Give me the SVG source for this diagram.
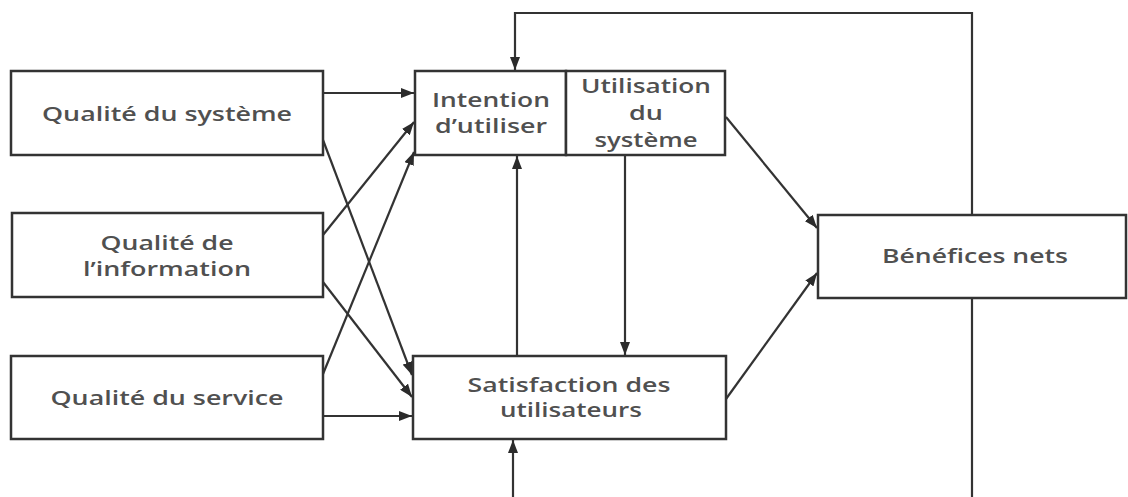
<svg xmlns="http://www.w3.org/2000/svg" width="1128" height="497" viewBox="0 0 1128 497">
<defs>
<marker id="arr" markerUnits="userSpaceOnUse" markerWidth="14" markerHeight="10" refX="13" refY="5" orient="auto">
<path d="M0,0 L13,5 L0,10 z" fill="#2b2b2b"/>
</marker>
<style>
.box{fill:#fff;stroke:#333;stroke-width:2.5}
.t{font-family:"Open Sans","Liberation Sans",sans-serif;font-size:19px;font-weight:600;fill:#505050;text-anchor:middle}
.c{fill:none;stroke:#333;stroke-width:2.2}
</style>
</defs>
<rect width="1128" height="497" fill="#fff"/>
<g id="connectors">
<polyline class="c" points="972,497 972,13 515,13 515,70" marker-end="url(#arr)"/>
<line class="c" x1="513" y1="497" x2="513" y2="440" marker-end="url(#arr)"/>
<line class="c" x1="323" y1="93" x2="414" y2="93" marker-end="url(#arr)"/>
<line class="c" x1="323" y1="235" x2="414" y2="122" marker-end="url(#arr)"/>
<line class="c" x1="323" y1="374" x2="414" y2="152" marker-end="url(#arr)"/>
<line class="c" x1="323" y1="140" x2="412" y2="375" marker-end="url(#arr)"/>
<line class="c" x1="323" y1="282" x2="412" y2="397" marker-end="url(#arr)"/>
<line class="c" x1="323" y1="416" x2="412" y2="416" marker-end="url(#arr)"/>
<line class="c" x1="517" y1="356" x2="517" y2="156" marker-end="url(#arr)"/>
<line class="c" x1="625" y1="155" x2="625" y2="355" marker-end="url(#arr)"/>
<line class="c" x1="726" y1="117" x2="817" y2="228" marker-end="url(#arr)"/>
<line class="c" x1="726" y1="399" x2="817" y2="273" marker-end="url(#arr)"/>
</g>
<g id="qualite-systeme">
<rect class="box" x="11" y="71" width="312" height="84"/>
<text class="t" x="167" y="121" textLength="250" lengthAdjust="spacingAndGlyphs">Qualité du système</text>
</g>
<g id="qualite-information">
<rect class="box" x="12" y="213" width="311" height="84"/>
<text class="t" x="167" y="250" textLength="133" lengthAdjust="spacingAndGlyphs">Qualité de</text>
<text class="t" x="167" y="276" textLength="168" lengthAdjust="spacingAndGlyphs">l’information</text>
</g>
<g id="qualite-service">
<rect class="box" x="11" y="356" width="312" height="83"/>
<text class="t" x="167" y="405" textLength="233" lengthAdjust="spacingAndGlyphs">Qualité du service</text>
</g>
<g id="intention">
<rect class="box" x="415" y="71" width="151" height="84"/>
<text class="t" x="491" y="107" textLength="118" lengthAdjust="spacingAndGlyphs">Intention</text>
<text class="t" x="491" y="133" textLength="112" lengthAdjust="spacingAndGlyphs">d’utiliser</text>
</g>
<g id="utilisation">
<rect class="box" x="566" y="71" width="159" height="84"/>
<text class="t" x="646" y="93" textLength="130" lengthAdjust="spacingAndGlyphs">Utilisation</text>
<text class="t" x="646" y="120" textLength="34" lengthAdjust="spacingAndGlyphs">du</text>
<text class="t" x="646" y="147" textLength="103" lengthAdjust="spacingAndGlyphs">système</text>
</g>
<g id="satisfaction">
<rect class="box" x="413" y="356" width="313" height="83"/>
<text class="t" x="569" y="392" textLength="203" lengthAdjust="spacingAndGlyphs">Satisfaction des</text>
<text class="t" x="571" y="417" textLength="142" lengthAdjust="spacingAndGlyphs">utilisateurs</text>
</g>
<g id="benefices">
<rect class="box" x="818" y="215" width="308" height="83"/>
<text class="t" x="975" y="263" textLength="186" lengthAdjust="spacingAndGlyphs">Bénéfices nets</text>
</g>
</svg>
